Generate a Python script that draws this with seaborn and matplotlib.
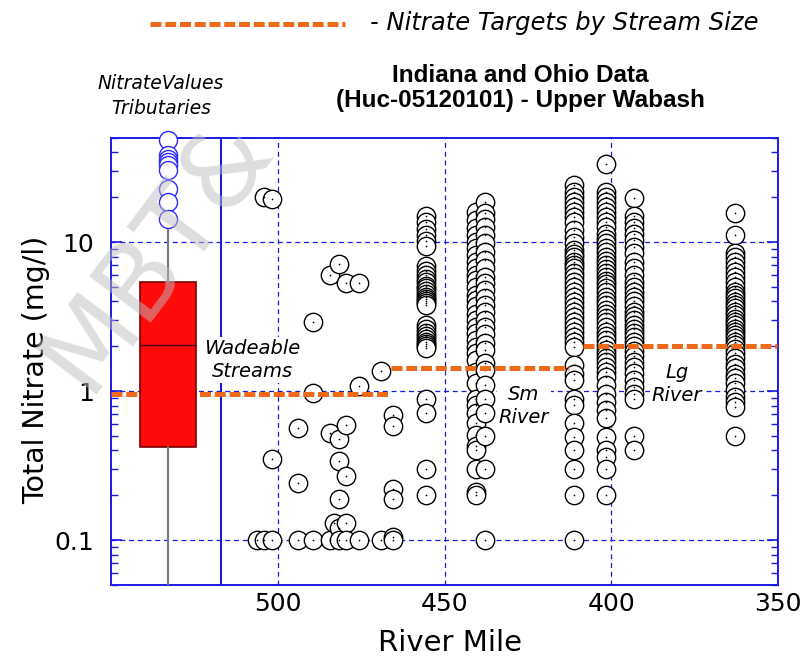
import numpy as np
import pandas as pd
import matplotlib
matplotlib.use("Agg")
import matplotlib.pyplot as plt
from matplotlib.lines import Line2D
import seaborn as sns

# ---------------- data ----------------
# main-stem sites: river mile and nitrate values (mg/l)
site_miles = [506.2, 504.2, 501.8, 493.8, 489.4, 484.3, 483.1, 481.7,
              479.6, 475.6, 469.1, 465.5, 455.4, 440.7, 438.0, 411.1,
              401.5, 393.1, 362.9]
nitrate_506 = [0.1]
nitrate_504 = [20.1, 0.1]
nitrate_502 = [19.6, 0.35, 0.1]
nitrate_494 = [0.57, 0.24, 0.1]
nitrate_489 = [2.9, 0.97, 0.1]
nitrate_484 = [6.06, 0.52, 0.1]
nitrate_483 = [0.13]
nitrate_482 = [7.09, 0.48, 0.34, 0.19, 0.12, 0.1]
nitrate_480 = [5.29, 0.59, 0.27, 0.13, 0.1]
nitrate_476 = [5.36, 1.08, 0.1]
nitrate_469 = [1.36, 0.1]
nitrate_466 = [0.69, 0.58, 0.22, 0.19, 0.105, 0.1]
nitrate_455 = [15.0, 13.6, 12.2, 11.1, 10.2, 9.4, 6.9, 6.4, 6.0, 5.7, 5.4,
               5.1, 4.9, 4.7, 4.5, 4.3, 4.15, 4.0, 3.9, 3.8, 2.8, 2.6, 2.45,
               2.35, 2.25, 2.15, 2.08, 2.0, 1.94, 0.89, 0.71, 0.30, 0.20]
nitrate_441 = [16.0, 14.0, 12.4, 11.1, 10.0, 9.1, 8.2, 7.4, 6.7, 6.0, 5.6,
               5.0, 4.4, 4.1, 3.7, 3.3, 3.0, 2.7, 2.44, 2.2, 1.98, 1.79, 1.61,
               1.35, 1.13, 0.89, 0.81, 0.71, 0.61, 0.51, 0.43, 0.40, 0.30,
               0.21, 0.20]
nitrate_438 = [18.6, 15.6, 14.4, 12.7, 11.1, 9.8, 8.6, 7.6, 6.7, 5.85, 5.3,
               4.8, 4.2, 3.8, 3.4, 3.0, 2.7, 2.4, 2.1, 1.88, 1.54, 1.38, 1.1,
               0.89, 0.71, 0.50, 0.30, 0.10]
nitrate_411 = [24.1, 21.8, 20.1, 18.6, 17.3, 16.0, 14.8, 13.7, 12.0, 10.9,
               9.8, 8.84, 8.39, 7.97, 7.38, 7.01, 6.66, 6.16, 5.85, 5.42, 5.01,
               4.64, 4.30, 3.98, 3.68, 3.41, 3.15, 2.92, 2.70, 2.50, 2.32,
               2.14, 1.98, 1.49, 1.31, 1.19, 0.89, 0.81, 0.61, 0.49, 0.40,
               0.30, 0.20, 0.10]
nitrate_402 = [33.4, 21.8, 20.1, 18.6, 17.3, 16.0, 14.8, 13.7, 12.6, 11.4,
               10.5, 9.8, 9.2, 8.6, 8.0, 7.5, 7.0, 6.6, 6.2, 5.8, 5.5, 5.2,
               4.9, 4.6, 4.3, 4.0, 3.8, 3.5, 3.3, 3.1, 2.9, 2.7, 2.5, 2.35,
               2.2, 2.05, 1.9, 1.78, 1.68, 1.57, 1.46, 1.35, 1.25, 1.10, 0.96,
               0.85, 0.75, 0.66, 0.49, 0.40, 0.36, 0.30, 0.20]
nitrate_393 = [19.9, 14.9, 13.7, 12.4, 11.3, 10.3, 9.3, 8.4, 7.4, 6.7, 6.0,
               5.4, 5.0, 4.6, 4.3, 4.0, 3.7, 3.4, 3.2, 3.0, 2.8, 2.6, 2.45,
               2.3, 2.15, 2.0, 1.85, 1.72, 1.57, 1.46, 1.32, 1.19, 1.07, 0.96,
               0.89, 0.50, 0.40]
nitrate_363 = [15.7, 11.1, 8.48, 7.97, 7.38, 6.83, 6.32, 5.85, 5.42, 5.01,
               4.64, 4.41, 4.19, 3.98, 3.78, 3.59, 3.41, 3.24, 3.07, 2.92,
               2.77, 2.63, 2.50, 2.38, 2.26, 2.14, 2.04, 1.93, 1.79, 1.66,
               1.53, 1.42, 1.31, 1.22, 1.13, 1.02, 0.92, 0.85, 0.785, 0.50]
site_values = [nitrate_506, nitrate_504, nitrate_502, nitrate_494, nitrate_489,
               nitrate_484, nitrate_483, nitrate_482, nitrate_480, nitrate_476,
               nitrate_469, nitrate_466, nitrate_455, nitrate_441, nitrate_438,
               nitrate_411, nitrate_402, nitrate_393, nitrate_363]

# tributary box-plot summary
trib_position = 533.0
trib_median = 2.04
trib_q1 = 0.42
trib_q3 = 5.4
trib_whisker_low = 0.04
trib_whisker_high = 12.0
trib_outliers = [48.4, 38.4, 36.4, 34.6, 32.9, 30.4, 22.9, 18.6, 14.2]

# nitrate targets by stream size: (start mile, end mile, target)
target_labels = ["Wadeable\nStreams", "Sm\nRiver", "Lg\nRiver"]
target_start = [550.0, 466.0, 408.4]
target_end = [466.5, 412.6, 350.3]
target_value = [0.955, 1.43, 2.0]

# ---------------- build dataframe ----------------
rows = []
for m, vals in zip(site_miles, site_values):
    for v in vals:
        rows.append((m, v))
df = pd.DataFrame(rows, columns=["river_mile", "nitrate"])

# ---------------- figure ----------------
sns.set_theme(style="white")
plt.rcParams['font.family'] = ['DejaVu Sans']
plt.rcParams['text.color'] = 'black'
plt.rcParams['xtick.color'] = 'black'
plt.rcParams['ytick.color'] = 'black'

W, H = 806, 659
fig = plt.figure(figsize=(W / 100, H / 100), dpi=100)
ax = fig.add_axes([111 / W, 1 - 585 / H, 667 / W, 447 / H])

BLUE = '#1a1ae6'
ORANGE = '#EE6A1A'

ax.set_yscale('log')
ax.set_xlim(550, 350)
ax.set_ylim(0.05, 50)

# grid lines
for gy in [0.1, 1, 10]:
    ax.axhline(gy, color=BLUE, lw=0.9, ls=(0, (4, 3)), zorder=1)
for gx in [500, 450, 400]:
    ax.axvline(gx, color=BLUE, lw=0.9, ls=(0, (4, 3)), zorder=1)
ax.axvline(517, color=BLUE, lw=1.5, zorder=1.5)

# scatter of main-stem samples
sns.scatterplot(data=df, x="river_mile", y="nitrate", ax=ax, s=175,
                color='white', edgecolor='black', linewidth=1.0, zorder=3,
                legend=False)
sns.scatterplot(data=df, x="river_mile", y="nitrate", ax=ax, s=1.5,
                color='black', linewidth=0, zorder=3.1, legend=False)

# target lines
for xs, xe, tv in zip(target_start, target_end, target_value):
    ax.plot([xs, xe], [tv, tv], color=ORANGE, lw=3.6, dashes=(2.2, 0.75),
            solid_capstyle='butt', dash_capstyle='butt', zorder=4)

# box plot of tributaries
stats = [dict(med=trib_median, q1=trib_q1, q3=trib_q3,
              whislo=trib_whisker_low, whishi=trib_whisker_high,
              fliers=trib_outliers)]
bp = ax.bxp(stats, positions=[trib_position], widths=16.8, patch_artist=True,
            showcaps=False, manage_ticks=False, zorder=5,
            boxprops=dict(facecolor='#ff0a0a', edgecolor='#7a0000', lw=1.2),
            medianprops=dict(color='#4a0000', lw=1.0),
            whiskerprops=dict(color='#777777', lw=1.5),
            flierprops=dict(marker='o', markerfacecolor='white',
                            markeredgecolor='#2a2aff', markersize=13,
                            markeredgewidth=1.0))
for fl in bp['fliers']:
    fl.set_clip_on(False)
    fl.set_zorder(6)

# axes styling
for sp in ax.spines.values():
    sp.set_color(BLUE)
    sp.set_linewidth(1.4)
ax.set_xticks([500, 450, 400, 350])
ax.set_xticklabels(['500', '450', '400', '350'])
ax.set_yticks([0.1, 1, 10])
ax.set_yticklabels(['0.1', '1', '10'])
ax.tick_params(axis='x', length=0, pad=5, labelsize=18, labelcolor='black')
ax.tick_params(axis='y', which='major', direction='in', length=8, width=1.2,
               color=BLUE, left=True, right=True, labelsize=18, pad=12,
               labelcolor='black')
ax.tick_params(axis='y', which='minor', direction='in', length=5, width=1.0,
               color=BLUE, left=True, right=True)
ax.set_xlabel('')
ax.set_ylabel('')

# annotations
bb = dict(facecolor='white', edgecolor='none', pad=1.5)
fig.text(252 / W, 1 - 360 / H, target_labels[0], ha='center', va='center',
         style='italic', fontsize=14, bbox=bb, zorder=6, linespacing=1.3)
fig.text(524 / W, 1 - 406 / H, target_labels[1], ha='center', va='center',
         style='italic', fontsize=14, bbox=bb, zorder=6, linespacing=1.3)
fig.text(677 / W, 1 - 384 / H, target_labels[2], ha='center', va='center',
         style='italic', fontsize=14, bbox=bb, zorder=6, linespacing=1.3)

fig.text(36 / W, 1 - 370 / H, 'Total Nitrate (mg/l)', rotation=90,
         ha='center', va='center', fontsize=20.5)
fig.text(450 / W, 1 - 643 / H, 'River Mile', ha='center', va='center',
         fontsize=21)

fig.text(520 / W, 1 - 88 / H, 'Indiana and Ohio Data\n(Huc-05120101) - Upper Wabash',
         ha='center', va='center', fontsize=17.5, fontweight='bold',
         family='Liberation Sans', linespacing=1.1)
fig.text(161 / W, 1 - 96 / H, 'NitrateValues\nTributaries', ha='center',
         va='center', style='italic', fontsize=13.5, linespacing=1.35)

# legend for targets
fig.add_artist(Line2D([150 / W, 345 / W], [1 - 24 / H, 1 - 24 / H],
                      transform=fig.transFigure, color=ORANGE, lw=3.6,
                      dashes=(2.2, 0.75), solid_capstyle='butt',
                      dash_capstyle='butt'))
fig.text(370 / W, 1 - 23 / H, '- Nitrate Targets by Stream Size', ha='left',
         va='center', style='italic', fontsize=17.5)

# watermark (kept inside the figure)
fig.text(104 / W, 1 - 408 / H, 'MBT&', rotation=53, rotation_mode='anchor',
         ha='left', va='bottom', fontsize=76, color='#bdbdbd', alpha=0.5,
         zorder=10)

fig.savefig('out.png', dpi=100)
